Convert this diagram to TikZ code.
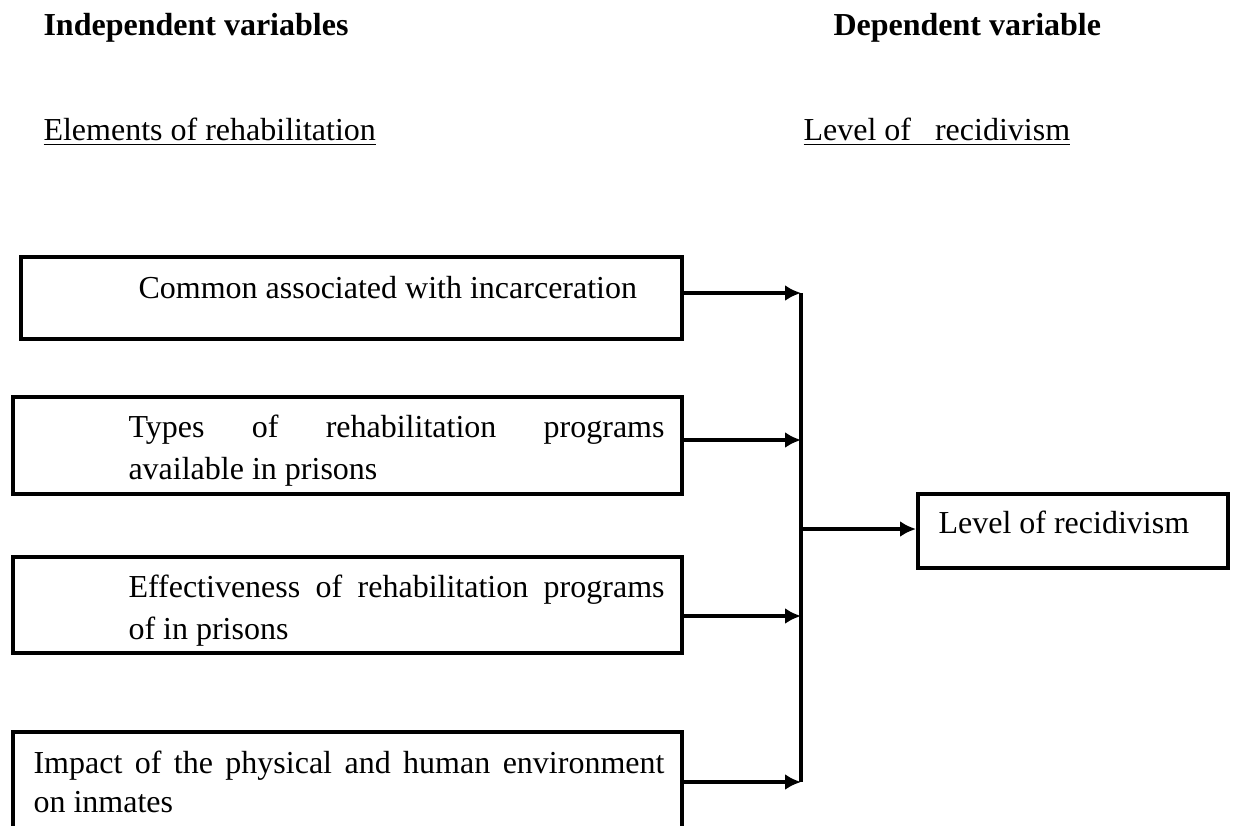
\documentclass[tikz,border=0pt]{standalone}
\usepackage{fontspec}
\setmainfont{Liberation Serif}
\usetikzlibrary{arrows.meta,positioning}
\hyphenpenalty=10000
\tolerance=10000
\hbadness=10000

\tikzset{
	varbox/.style={draw,line width=1.5pt,inner sep=0pt},
	boxtext/.style={inner sep=0pt,anchor=base west,align=justify,font=\fontsize{12}{15.75}\selectfont},
	heading/.style={inner sep=0pt,anchor=base west},
	feed/.style={line width=1.25pt,-{Latex[length=6pt,width=6pt]}}
}

\begin{document}
\begin{tikzpicture}[x=0.375pt,y=-0.375pt,font=\fontsize{12}{14.4}\selectfont]
	\clip (0,0) rectangle (1234,825);
	\node[heading,font=\fontsize{12}{14.4}\selectfont\bfseries] (indep) at (43,35) {Independent variables};
	\node[heading,font=\fontsize{12}{14.4}\selectfont\bfseries] (dep) at (833,35) {Dependent variable};
	\node[heading] (elements) at (43,140) {\underline{Elements of rehabilitation}};
	\node[heading] (levelhead) at (803,140) {\underline{Level of\ \ \ recidivism}};
	%
	\node[varbox,minimum width=247.9pt,minimum height=30.75pt] (common) at (351.5,298) {};
	\node[boxtext] (commontxt) at (138,298) {Common associated with incarceration};
	\node[varbox,minimum width=250.9pt,minimum height=36.4pt] (types) at (347.5,445.5) {};
	\node[boxtext,text width=201pt] (typestxt) at (128,437) {Types of rehabilitation programs\linebreak available in prisons};
	\node[varbox,minimum width=250.9pt,minimum height=36pt] (effect) at (347.5,605) {};
	\node[boxtext,text width=201pt] (effecttxt) at (128,597) {Effectiveness of rehabilitation programs\linebreak of in prisons};
	\node[varbox,minimum width=250.9pt,minimum height=44.25pt] (impact) at (347.5,791) {};
	\node[boxtext,text width=236.6pt,font=\fontsize{12}{14.75}\selectfont] (impacttxt) at (33,773) {Impact of the physical and human environment\linebreak on inmates};
	%
	\node[varbox,minimum width=116.25pt,minimum height=27.75pt] (level) at (1073,531) {};
	\node[boxtext] (leveltxt) at (938,533) {Level of recidivism};
	%
	\coordinate (b1) at (801,293);
	\coordinate (b2) at (801,440);
	\coordinate (b3) at (801,616);
	\coordinate (b4) at (801,782);
	\coordinate (b0) at (801,529);
	\draw[line width=1.25pt] (b1) -- (b4);
	\draw[feed] (common.east |- b1) -- (b1);
	\draw[feed] (types.east |- b2) -- (b2);
	\draw[feed] (effect.east |- b3) -- (b3);
	\draw[feed] (impact.east |- b4) -- (b4);
	\draw[feed] (b0) -- (level.west |- b0);
\end{tikzpicture}
\end{document}
